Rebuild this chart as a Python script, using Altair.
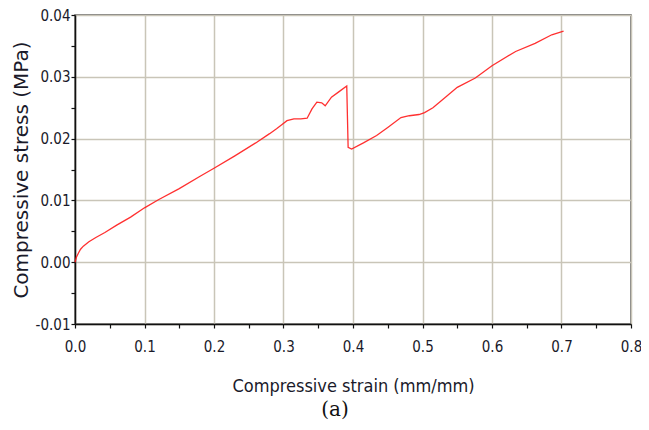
import altair as alt
import pandas as pd

strain = [0.0, 0.002, 0.005, 0.008, 0.012, 0.02, 0.03, 0.043, 0.06, 0.08, 0.1,
          0.12, 0.15, 0.18, 0.2, 0.23, 0.26, 0.28, 0.29, 0.297, 0.305, 0.315,
          0.325, 0.334, 0.341, 0.348, 0.355, 0.36, 0.369, 0.38, 0.391, 0.393,
          0.398, 0.415, 0.434, 0.45, 0.469, 0.481, 0.495, 0.503, 0.515, 0.53,
          0.55, 0.576, 0.6, 0.634, 0.662, 0.686, 0.703]
stress = [0.0, 0.0008, 0.0015, 0.0021, 0.0026, 0.0033, 0.0040, 0.0048, 0.0060,
          0.0073, 0.0088, 0.0101, 0.0119, 0.0139, 0.0152, 0.0172, 0.0193, 0.0208,
          0.0216, 0.0222, 0.0229, 0.0232, 0.0232, 0.0233, 0.0248, 0.0259, 0.0258,
          0.0253, 0.0267, 0.0276, 0.0285, 0.0186, 0.0183, 0.0193, 0.0205, 0.0218,
          0.0234, 0.0237, 0.0239, 0.0242, 0.0250, 0.0264, 0.0283, 0.0298, 0.0318,
          0.0341, 0.0354, 0.0368, 0.0374]

x_ticks = [0.0, 0.05, 0.1, 0.15, 0.2, 0.25, 0.3, 0.35, 0.4, 0.45, 0.5, 0.55,
           0.6, 0.65, 0.7, 0.75, 0.8]
y_ticks = [-0.01, -0.005, 0.0, 0.005, 0.01, 0.015, 0.02, 0.025, 0.03, 0.035, 0.04]

df = pd.DataFrame({"strain": strain, "stress": stress})

x_major = "abs(datum.value*10 - round(datum.value*10)) < 0.001"
y_major = "abs(datum.value*100 - round(datum.value*100)) < 0.001"

label_font = "DejaVu Sans Condensed, DejaVu Sans"

chart = alt.Chart(df).mark_line(
    color="#ff1a1a", strokeWidth=1.3, opacity=0.9
).encode(
    x=alt.X("strain:Q",
            scale=alt.Scale(domain=[0, 0.8], nice=False, zero=False),
            axis=alt.Axis(
                values=x_ticks,
                labelExpr=f"{x_major} ? format(datum.value, '.1f') : ''",
                gridOpacity={"condition": {"test": x_major, "value": 1}, "value": 0},
                title="Compressive strain (mm/mm)",
                titleFont=label_font, titleFontSize=18, titleFontWeight="normal",
                titleColor="#1a1a2a",
                titleY=67, titleBaseline="alphabetic",
                labelPadding=11, labelFlush=False,
            )),
    y=alt.Y("stress:Q",
            scale=alt.Scale(domain=[-0.01, 0.04], nice=False, zero=False),
            axis=alt.Axis(
                values=y_ticks,
                labelExpr=(f"{y_major} ? (datum.value < 0 ? '-' + format(-datum.value, '.2f')"
                           f" : format(datum.value, '.2f')) : ''"),
                gridOpacity={"condition": {"test": y_major, "value": 1}, "value": 0},
                title="Compressive stress (MPa)",
                titleFont="DejaVu Sans", titleFontSize=20, titleFontWeight="normal",
                titleColor="#1a1a2a",
                titleX=-48, titleBaseline="alphabetic",
                labelPadding=1, labelFlush=False,
            )),
).properties(
    width=556, height=309,
    autosize=alt.AutoSizeParams(type="none"),
    padding={"left": 67, "top": 7, "right": 10, "bottom": 98},
    title=alt.TitleParams("(a)", orient="bottom", anchor="middle", dx=-18,
                          offset=5, font="DejaVu Serif", fontSize=20,
                          fontWeight="normal", color="#111"),
).configure_view(
    stroke="#555555", strokeWidth=1.5
).configure_axis(
    domainColor="#111111", domainWidth=1.5,
    tickColor="#111111", tickSize=4, tickWidth=1.2,
    gridColor="#c9c5b8", gridWidth=1.5,
    labelFont=label_font, labelFontSize=15, labelColor="#1a1a2a",
)

chart.save("out.html", embed_options={"renderer": "svg", "actions": False})
